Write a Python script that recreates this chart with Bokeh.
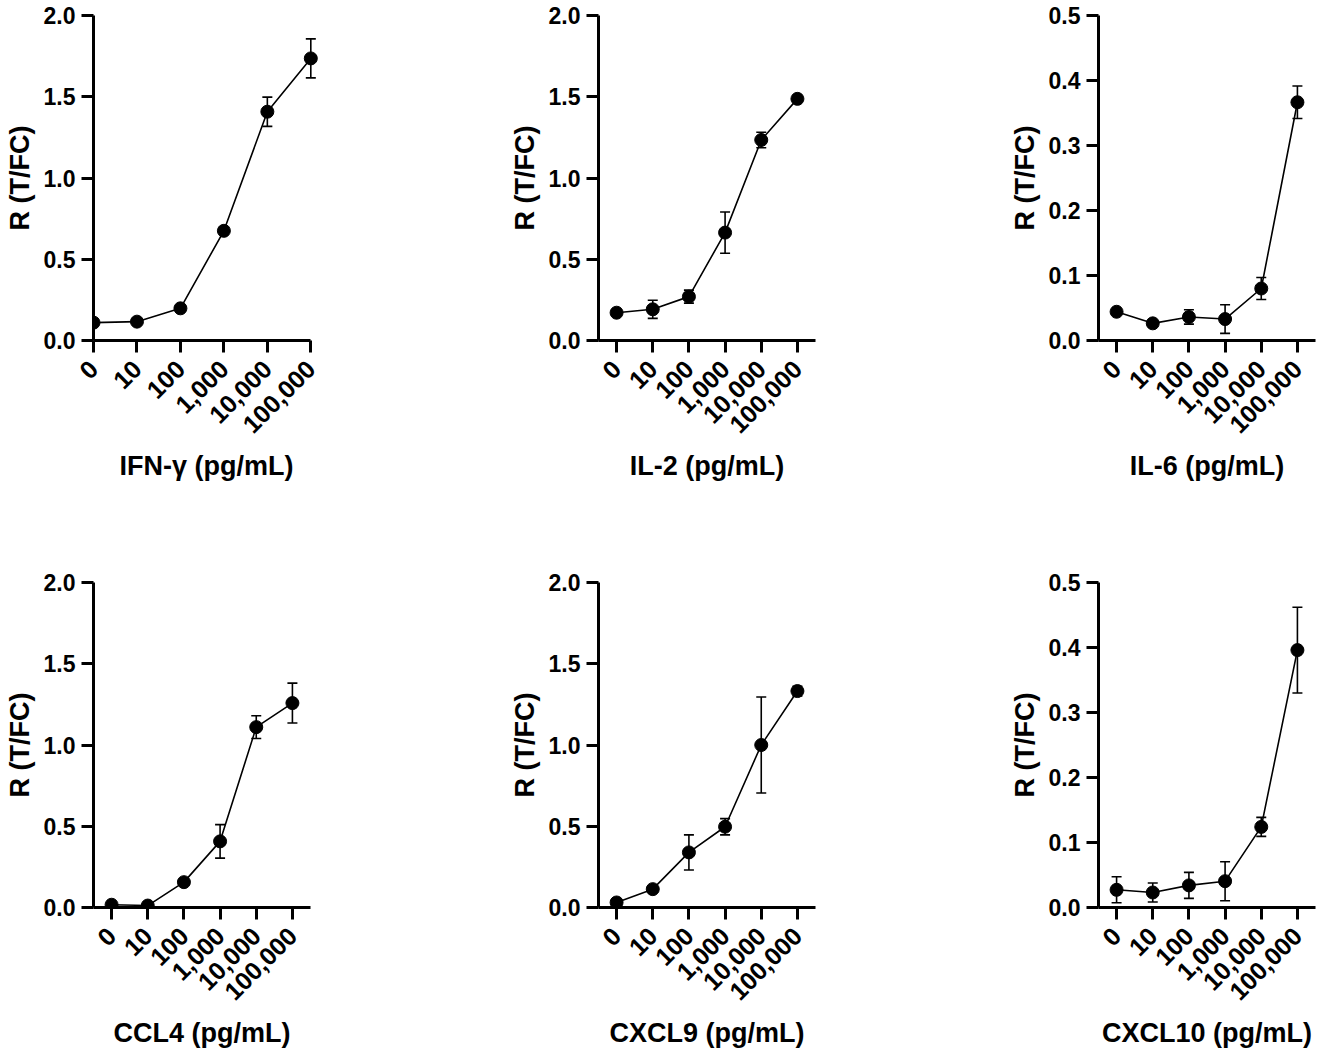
import math
from bokeh.plotting import figure
from bokeh.models import (ColumnDataSource, Whisker, TeeHead, FixedTicker,
                          Range1d, NumeralTickFormatter)
from bokeh.layouts import column, row
from bokeh.embed import file_html
from bokeh.resources import INLINE

# ---------------- data ----------------
concentrations = ["0", "10", "100", "1,000", "10,000", "100,000"]

ifng_label = "IFN-γ (pg/mL)"
ifng_mean = [0.11, 0.116, 0.198, 0.675, 1.408, 1.736]
ifng_err = [0.0, 0.0, 0.0, 0.0, 0.09, 0.12]

il2_label = "IL-2 (pg/mL)"
il2_mean = [0.171, 0.192, 0.270, 0.664, 1.234, 1.487]
il2_err = [0.0, 0.056, 0.040, 0.127, 0.048, 0.0]

il6_label = "IL-6 (pg/mL)"
il6_mean = [0.0442, 0.0264, 0.0362, 0.0330, 0.0800, 0.3665]
il6_err = [0.0, 0.0, 0.011, 0.022, 0.017, 0.025]

ccl4_label = "CCL4 (pg/mL)"
ccl4_mean = [0.017, 0.012, 0.156, 0.407, 1.110, 1.258]
ccl4_err = [0.0, 0.0, 0.0, 0.103, 0.070, 0.123]

cxcl9_label = "CXCL9 (pg/mL)"
cxcl9_mean = [0.031, 0.113, 0.339, 0.497, 1.000, 1.332]
cxcl9_err = [0.0, 0.0, 0.108, 0.050, 0.295, 0.030]

cxcl10_label = "CXCL10 (pg/mL)"
cxcl10_mean = [0.0272, 0.0231, 0.0340, 0.0405, 0.1240, 0.3960]
cxcl10_err = [0.020, 0.0147, 0.020, 0.030, 0.0146, 0.066]

y_title = "R (T/FC)"
ticks_big = [0.0, 0.5, 1.0, 1.5, 2.0]
ticks_small = [0.0, 0.1, 0.2, 0.3, 0.4, 0.5]

FONT = "Liberation Sans"


def make_panel(xlabel, mean, err, ymax, yticks, x_lo, x_hi, x_bounds, fw,
               left, right, top, bottom):
    x = list(range(len(concentrations)))
    p = figure(frame_width=fw, frame_height=325,
               x_range=Range1d(x_lo, x_hi), y_range=Range1d(0, ymax),
               output_backend="svg", toolbar_location=None,
               min_border_left=left, min_border_right=right,
               min_border_top=top, min_border_bottom=bottom)
    p.outline_line_color = None
    p.background_fill_color = "white"
    p.border_fill_color = "white"
    p.xgrid.grid_line_color = None
    p.ygrid.grid_line_color = None

    src = ColumnDataSource(dict(x=x, y=mean))
    p.line("x", "y", source=src, line_width=1.6, line_color="black")

    ex = [xi for xi, e in zip(x, err) if e > 0]
    ey = [m for m, e in zip(mean, err) if e > 0]
    ee = [e for e in err if e > 0]
    if ex:
        esrc = ColumnDataSource(dict(x=ex,
                                     upper=[m + e for m, e in zip(ey, ee)],
                                     lower=[m - e for m, e in zip(ey, ee)]))
        w = Whisker(base="x", upper="upper", lower="lower", source=esrc,
                    line_width=1.6, line_color="black",
                    upper_head=TeeHead(size=10, line_width=1.6, line_color="black"),
                    lower_head=TeeHead(size=10, line_width=1.6, line_color="black"))
        p.add_layout(w)

    p.scatter("x", "y", source=src, size=13, fill_color="black",
              line_color="black")

    for ax in (p.xaxis[0], p.yaxis[0]):
        ax.axis_line_width = 3
        ax.axis_line_color = "black"
        ax.major_tick_line_width = 3
        ax.major_tick_line_color = "black"
        ax.major_tick_out = 12
        ax.major_tick_in = 0
        ax.minor_tick_line_color = None
        ax.major_label_text_font = FONT
        ax.major_label_text_font_style = "bold"
        ax.major_label_text_color = "black"
        ax.axis_label_text_font = FONT
        ax.axis_label_text_font_style = "bold"
        ax.axis_label_text_color = "black"

    xa = p.xaxis[0]
    xa.ticker = FixedTicker(ticks=x)
    xa.major_label_overrides = {i: c for i, c in zip(x, concentrations)}
    xa.major_label_orientation = math.pi / 4
    xa.major_label_text_font_size = "25px"
    xa.major_label_standoff = 12
    xa.axis_label = xlabel
    xa.axis_label_text_font_size = "27px"
    xa.axis_label_standoff = 7
    if x_bounds is not None:
        xa.bounds = x_bounds

    ya = p.yaxis[0]
    ya.ticker = FixedTicker(ticks=yticks)
    ya.formatter = NumeralTickFormatter(format="0.0")
    ya.major_label_text_font_size = "23px"
    ya.major_label_standoff = 6
    ya.axis_label = y_title
    ya.axis_label_text_font_size = "27px"
    ya.axis_label_standoff = 6
    return p


# column 1 frame at x=93, column 2 at x=598, column 3 at x=1098
p1 = make_panel(ifng_label, ifng_mean, ifng_err, 2.0, ticks_big, 0, 5.2, (0, 5), 226,
                93, 186, 15, 227)
p2 = make_panel(il2_label, il2_mean, il2_err, 2.0, ticks_big, -0.5, 5.5, None, 217,
                93, 190, 15, 227)
p3 = make_panel(il6_label, il6_mean, il6_err, 0.5, ticks_small, -0.5, 5.5, None, 217,
                93, 8, 15, 227)
p4 = make_panel(ccl4_label, ccl4_mean, ccl4_err, 2.0, ticks_big, -0.5, 5.5, None, 217,
                93, 195, 15, 140)
p5 = make_panel(cxcl9_label, cxcl9_mean, cxcl9_err, 2.0, ticks_big, -0.5, 5.5, None, 217,
                93, 190, 15, 140)
p6 = make_panel(cxcl10_label, cxcl10_mean, cxcl10_err, 0.5, ticks_small, -0.5, 5.5, None, 217,
                93, 8, 15, 140)

layout = column(row(p1, p2, p3), row(p4, p5, p6))

open("out.html", "w").write(file_html(layout, INLINE))
